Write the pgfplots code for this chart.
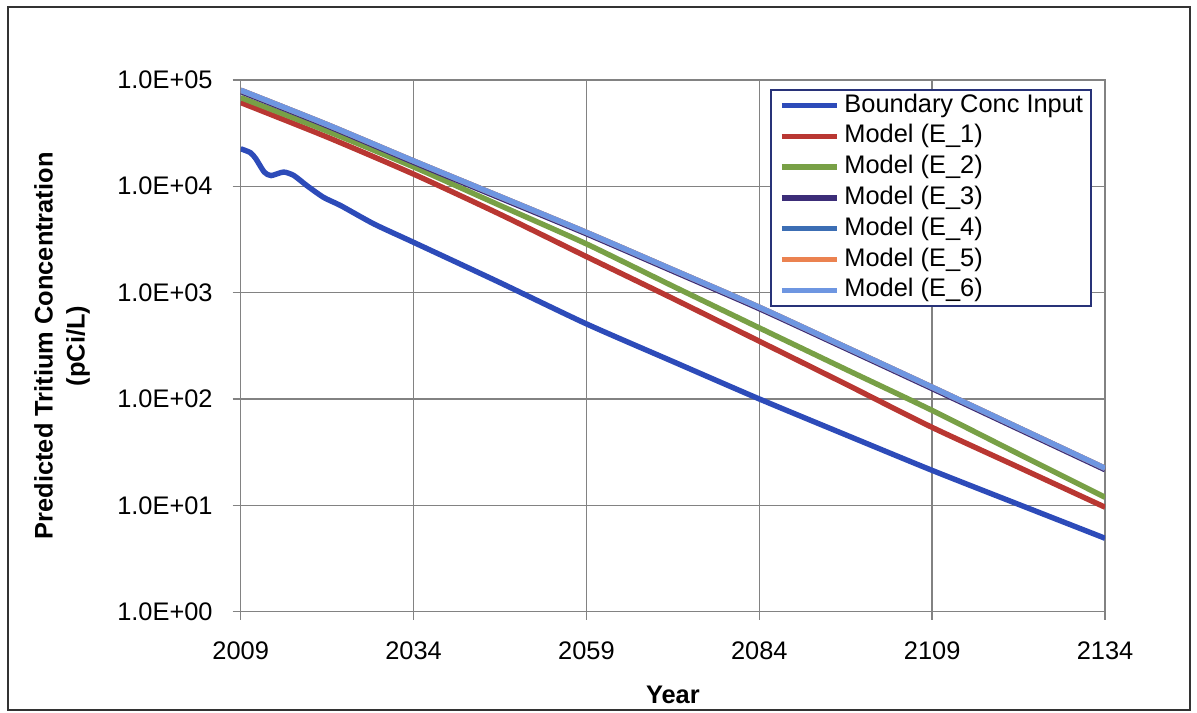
\documentclass[border=0pt]{standalone}
\usepackage{fontspec}
\setmainfont{Liberation Sans}
\usepackage{pgfplots}
\pgfplotsset{compat=1.18}
\definecolor{cBnd}{RGB}{45,75,185}
\definecolor{cE1}{RGB}{185,55,50}
\definecolor{cE2}{RGB}{120,160,70}
\definecolor{cE3}{RGB}{60,45,120}
\definecolor{cE4}{RGB}{60,110,180}
\definecolor{cE5}{RGB}{235,130,80}
\definecolor{cE6}{RGB}{110,150,225}
\definecolor{cGrid}{RGB}{130,130,130}
\definecolor{cLeg}{RGB}{40,50,120}
\begin{document}
\begin{tikzpicture}
\useasboundingbox (0,0) rectangle (598.5pt,356pt);
\draw[line width=1pt, black!80] (4pt,1pt) rectangle (595pt,352.5pt);
\begin{axis}[
  at={(120.35pt,50.15pt)}, anchor=south west,
  width=432.2pt, height=265.9pt, scale only axis,
  xmin=2009, xmax=2134, ymode=log, ymin=1, ymax=1e5,
  xtick={2009,2034,2059,2084,2109,2134},
  xticklabels={2009,2034,2059,2084,2109,2134},
  ytick={1,10,100,1000,10000,100000},
  yticklabels={1.0E+00,1.0E+01,1.0E+02,1.0E+03,1.0E+04,1.0E+05},
  yminorticks=false,
  grid=major,
  major grid style={cGrid, line width=0.75pt},
  axis line style={cGrid, line width=0.75pt},
  tick style={cGrid, line width=0.75pt},
  tick align=outside, major tick length=4pt,
  xtick pos=bottom, ytick pos=left,
  tick label style={font=\fontsize{12.7}{15}\selectfont, text=black},
  xticklabel style={yshift=-7.5pt},
  yticklabel style={xshift=-6.5pt},
  xlabel={Year},
  xlabel style={font=\bfseries\fontsize{12.7}{15}\selectfont, anchor=center, at={(axis description cs:0.5,-0.1568)}},
  ylabel={Predicted Tritium Concentration\\(pCi/L)},
  ylabel style={font=\bfseries\fontsize{12.7}{16}\selectfont, align=center, anchor=center, at={(axis description cs:-0.2068,0.5)}},
  legend cell align=left,
  legend image code/.code={\draw[#1] (0pt,0pt) -- (27.5pt,0pt);},
  legend style={at={(rel axis cs:0.6124,0.983)}, anchor=north west,
    draw=cLeg, line width=1pt, fill=white,
    inner xsep=4pt, inner ysep=1.9pt, row sep=3.6pt, column sep=2.5pt,
    font=\fontsize{12.7}{15}\selectfont,
    nodes={inner sep=0pt, text height=9.2pt, text depth=2.6pt}},
  every axis plot/.append style={line width=2.7pt, smooth, tension=0.4},
]
\addplot[cBnd] coordinates {
(2009,22500) (2010.4,20700) (2011.2,18100) (2012.4,13600) (2013.4,12600)
(2015.2,13600) (2016.7,12600) (2018.6,10100) (2021,7850) (2023.5,6560)
(2028.3,4410) (2034,2970) (2046.4,1250) (2059,508) (2071.5,225)
(2084,100) (2096.5,46) (2109,21.3) (2121.5,10.2) (2134,4.9)};
\addlegendentry{Boundary Conc Input}
\addplot[cE1] coordinates {
(2009,61200) (2021.5,29000) (2034,13000) (2046.5,5450) (2059,2180)
(2071.5,880) (2084,349) (2096.5,138) (2109,54) (2121.5,22.8) (2134,9.6)};
\addlegendentry{Model (E\_1)}
\addplot[cE2] coordinates {
(2009,68200) (2021.5,33000) (2034,15200) (2046.5,6600) (2059,2870)
(2071.5,1150) (2084,466) (2096.5,190) (2109,78) (2121.5,30.4) (2134,11.9)};
\addlegendentry{Model (E\_2)}
\addplot[cE3] coordinates {
(2009,77600) (2021.5,37000) (2034,16800) (2046.5,7750) (2059,3570)
(2071.5,1590) (2084,706) (2096.5,298) (2109,125) (2121.5,52) (2134,21.6)};
\addlegendentry{Model (E\_3)}
\addplot[cE4] coordinates {
(2009,80000) (2021.5,38000) (2034,17300) (2046.5,8000) (2059,3680)
(2071.5,1640) (2084,728) (2096.5,307) (2109,129) (2121.5,53.6) (2134,22.3)};
\addlegendentry{Model (E\_4)}
\addplot[cE5] coordinates {
(2009,80000) (2021.5,38000) (2034,17300) (2046.5,8000) (2059,3680)
(2071.5,1640) (2084,728) (2096.5,307) (2109,129) (2121.5,53.6) (2134,22.3)};
\addlegendentry{Model (E\_5)}
\addplot[cE6] coordinates {
(2009,80000) (2021.5,38000) (2034,17300) (2046.5,8000) (2059,3680)
(2071.5,1640) (2084,728) (2096.5,307) (2109,129) (2121.5,53.6) (2134,22.3)};
\addlegendentry{Model (E\_6)}
\end{axis}
\end{tikzpicture}
\end{document}
